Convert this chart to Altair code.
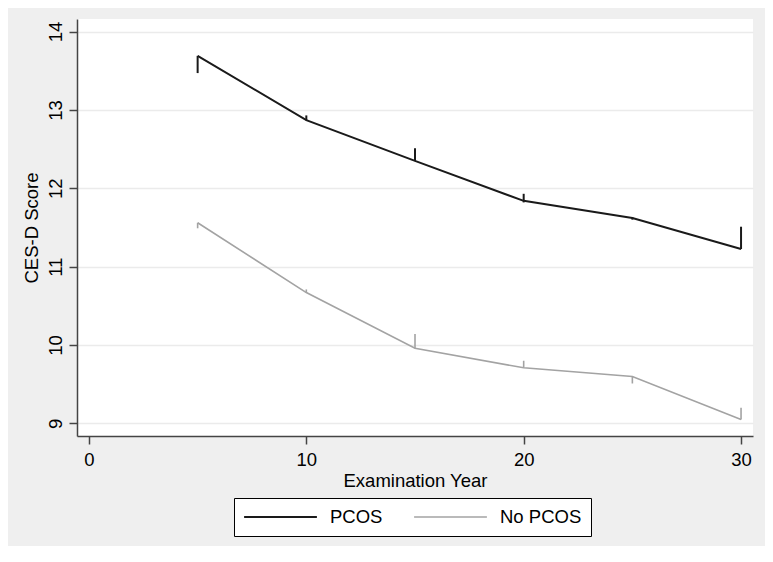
import altair as alt
import pandas as pd

# Examination years
years = [5, 10, 15, 20, 25, 30]

# Mean CES-D score per group
pcos_mean = [13.69, 12.87, 12.35, 11.84, 11.62, 11.225]
nopcos_mean = [11.56, 10.67, 9.96, 9.71, 9.60, 9.05]

# One-sided interval spikes (low / high ends)
pcos_lo = [13.47, 12.87, 12.35, 11.82, 11.60, 11.225]
pcos_hi = [13.69, 12.93, 12.51, 11.93, 11.63, 11.51]
nopcos_lo = [11.49, 10.67, 9.96, 9.71, 9.51, 9.05]
nopcos_hi = [11.56, 10.71, 10.14, 9.80, 9.60, 9.20]

groups = ["PCOS", "No PCOS"]
colors = ["#1a1a1a", "#a3a3a3"]
widths = [2.0, 1.6]

rows = []
for g, m, lo, hi in [("PCOS", pcos_mean, pcos_lo, pcos_hi),
                     ("No PCOS", nopcos_mean, nopcos_lo, nopcos_hi)]:
    for x, mv, l, h in zip(years, m, lo, hi):
        rows.append({"year": x, "score": mv, "lo": l, "hi": h, "group": g})
df = pd.DataFrame(rows)

FONT = "Liberation Sans"
FS = 18.5

x_enc = alt.X("year:Q",
              scale=alt.Scale(domain=[-0.55, 30.55], nice=False, zero=False),
              axis=alt.Axis(title="Examination Year", values=[0, 10, 20, 30],
                            format="d", grid=False, labelPadding=6,
                            titlePadding=3, labelFlush=False))
y_scale = alt.Scale(domain=[8.84, 14.16], nice=False, zero=False)

color_enc = alt.Color("group:N",
                      scale=alt.Scale(domain=groups, range=colors),
                      sort=groups,
                      legend=alt.Legend(title=None, orient="none",
                                        legendX=157, legendY=479,
                                        direction="horizontal",
                                        symbolType="stroke",
                                        symbolSize=5300,
                                        symbolStrokeWidth=1.6,
                                        clipHeight=20,
                                        labelOffset=12,
                                        columnPadding=30,
                                        padding=9,
                                        fillColor="white",
                                        strokeColor="black",
                                        labelFontSize=FS,
                                        labelFont=FONT,
                                        labelColor="black"))

line = alt.Chart(df).mark_line().encode(
    x=x_enc,
    y=alt.Y("score:Q", scale=y_scale,
            axis=alt.Axis(title="CES-D Score", values=[9, 10, 11, 12, 13, 14],
                          format="d",
                          labelAngle=-90, labelAlign="center",
                          labelBaseline="bottom", labelPadding=4,
                          titlePadding=5, grid=True)),
    color=color_enc,
    strokeWidth=alt.StrokeWidth("group:N",
                                scale=alt.Scale(domain=groups, range=widths),
                                legend=None),
    detail="group:N",
)

spikes = alt.Chart(df).mark_rule().encode(
    x="year:Q",
    y=alt.Y("lo:Q", scale=y_scale),
    y2="hi:Q",
    color=alt.Color("group:N", scale=alt.Scale(domain=groups, range=colors), legend=None),
    strokeWidth=alt.StrokeWidth("group:N",
                                scale=alt.Scale(domain=groups, range=widths),
                                legend=None),
)

chart = alt.layer(line, spikes).properties(
    width=676, height=417,
    autosize=alt.AutoSizeParams(type="none"),
    padding={"left": 69, "top": 11, "right": 12, "bottom": 110},
    background="#efefef",
).configure_view(
    fill="white", stroke=None
).configure_axis(
    labelFont=FONT, titleFont=FONT, labelFontSize=FS, titleFontSize=FS,
    labelColor="black", titleColor="black", titleFontWeight="normal",
    domainColor="#444444", domainWidth=1.5,
    tickColor="#444444", tickWidth=1.5, tickSize=8,
    gridColor="#ebebeb", gridWidth=1.5,
)

chart.save("out.html", embed_options={"renderer": "svg", "actions": False})
